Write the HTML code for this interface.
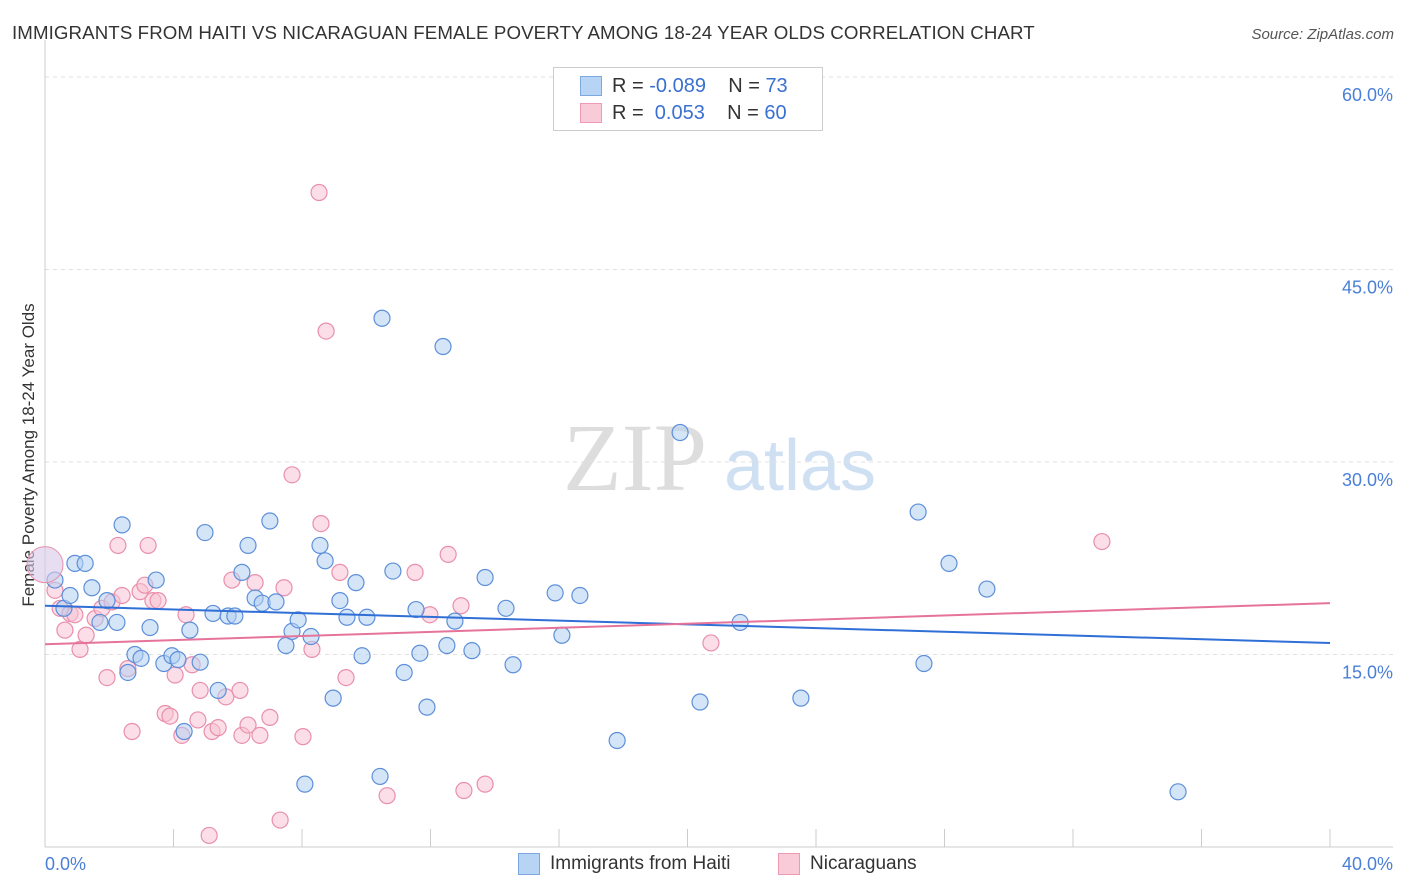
<!DOCTYPE html>
<html><head><meta charset="utf-8"><style>
body{margin:0;background:#fff;font-family:"Liberation Sans",sans-serif;}
#wrap{position:relative;width:1406px;height:892px;overflow:hidden}
</style></head><body><div id="wrap">
<svg id="svg" width="1406" height="892" xmlns="http://www.w3.org/2000/svg">
<text x="12" y="39" font-size="18.7" letter-spacing="0.1" fill="#333">IMMIGRANTS FROM HAITI VS NICARAGUAN FEMALE POVERTY AMONG 18-24 YEAR OLDS CORRELATION CHART</text>
<text x="1394" y="39" font-size="15" fill="#555" font-style="italic" text-anchor="end">Source: ZipAtlas.com</text>
<text x="635" y="490" font-size="96" fill="#ddd" font-family="Liberation Serif,serif" text-anchor="middle">ZIP</text>
<text x="800" y="490" font-size="72" fill="#cfe0f3" text-anchor="middle">atlas</text>
<text transform="translate(34,455) rotate(-90)" font-size="17" fill="#333" text-anchor="middle">Female Poverty Among 18-24 Year Olds</text>
<g id="grid"></g><g id="marks"></g>
</svg>
<div style="position:absolute;left:553px;top:67px;width:268px;height:62px;border:1px solid #ccc;background:#fff;font-size:20px">
<div style="position:absolute;left:26px;top:8px;width:20px;height:18px;background:#b8d4f5;border:1px solid #7ea8e0"></div>
<div style="position:absolute;left:58px;top:7px;color:#333">R = <span style="color:#3a70d0">-0.089</span>&nbsp;&nbsp;&nbsp; N = <span style="color:#3a70d0">73</span></div>
<div style="position:absolute;left:26px;top:35px;width:20px;height:18px;background:#f9cbd9;border:1px solid #ee9ab5"></div>
<div style="position:absolute;left:58px;top:34px;color:#333">R = &nbsp;<span style="color:#3a70d0">0.053</span>&nbsp;&nbsp;&nbsp; N = <span style="color:#3a70d0">60</span></div>
</div>
<div style="position:absolute;left:518px;top:853px;width:20px;height:20px;background:#b8d4f5;border:1px solid #7ea8e0"></div>
<div style="position:absolute;left:550px;top:853px;font-size:19px;color:#333">Immigrants from Haiti</div>
<div style="position:absolute;left:778px;top:853px;width:20px;height:20px;background:#f9cbd9;border:1px solid #ee9ab5"></div>
<div style="position:absolute;left:810px;top:853px;font-size:19px;color:#333">Nicaraguans</div>
</div>
<script>
const yTicks=[15,30,45,60];
const yTickLabels=["15.0%","30.0%","45.0%","60.0%"];
const xTickLabels=["0.0%","40.0%"];
const blueX=[0.31,0.59,0.78,0.93,1.25,1.46,1.71,1.93,2.24,2.40,2.58,2.80,2.99,3.27,3.46,3.70,3.95,4.14,4.33,4.51,4.83,4.98,5.23,5.39,5.70,5.91,6.13,6.32,6.54,6.76,7.00,7.19,7.50,7.69,7.88,8.09,8.28,8.56,8.72,8.97,9.18,9.40,9.68,9.87,10.02,10.43,10.49,10.83,11.18,11.55,11.67,11.89,12.39,12.51,12.76,13.29,13.70,14.35,14.57,15.88,16.09,16.65,17.81,19.77,20.39,21.64,23.53,27.18,27.36,28.14,29.32,35.27];
const blueY=[20.8,18.6,19.6,22.1,22.1,20.2,17.5,19.2,17.5,25.1,13.6,15.0,14.7,17.1,20.8,14.3,14.9,14.6,9.0,16.9,14.4,24.5,18.2,12.2,18.0,18.0,21.4,23.5,19.4,19.0,25.4,19.1,15.7,16.8,17.7,4.9,16.4,23.5,22.3,11.6,19.2,17.9,20.6,14.9,17.9,5.5,41.2,21.5,13.6,18.5,15.1,10.9,39.0,15.7,17.6,15.3,21.0,18.6,14.2,19.8,16.5,19.6,8.3,32.3,11.3,17.5,11.6,26.1,14.3,22.1,20.1,4.3];
const pinkX=[0.31,0.47,0.62,0.78,0.93,1.09,1.28,1.56,1.77,1.93,2.09,2.27,2.40,2.58,2.71,2.96,3.11,3.21,3.36,3.52,3.74,3.89,4.05,4.26,4.39,4.58,4.76,4.83,5.11,5.20,5.39,5.63,5.82,6.07,6.13,6.32,6.54,6.69,7.00,7.32,7.44,7.69,8.03,8.31,8.53,8.59,8.75,9.18,9.37,10.65,11.52,11.98,12.55,12.95,13.04,13.70,20.73,32.90];
const pinkY=[20.0,18.6,16.9,18.2,18.1,15.4,16.5,17.8,18.6,13.2,19.1,23.5,19.6,13.9,9.0,19.9,20.4,23.5,19.2,19.2,10.4,10.2,13.4,8.7,18.1,14.2,9.9,12.2,0.9,9.0,9.3,11.7,20.8,12.2,8.7,9.5,20.6,8.7,10.1,2.1,20.2,29.0,8.6,15.4,51.0,25.2,40.2,21.4,13.2,4.0,21.4,18.1,22.8,18.8,4.4,4.9,15.9,23.8];
const blueTrend=[18.8,15.9];
const pinkTrend=[15.8,19.0];
const bigPoint=[0,22.0];
const NS="http://www.w3.org/2000/svg";
const xs=v=>45+v/40*1285, ys=v=>847-v/15*192.5;
function mk(t,a,p){const e=document.createElementNS(NS,t);for(const k in a)e.setAttribute(k,a[k]);p.appendChild(e);return e;}
const g=document.getElementById('grid'),m=document.getElementById('marks');
yTicks.forEach((t,i)=>{
 const l=mk('line',{x1:45,x2:1393,y1:ys(t),y2:ys(t),stroke:'#e0e0e0','stroke-dasharray':'4,4'},g);
 
 
 const tx=mk('text',{x:1393,y:ys(t)+24,'font-size':18,fill:'#4a7fd8','text-anchor':'end'},g);tx.textContent=yTickLabels[i];
 
 
});
let ax=mk('line',{x1:45,x2:45,y1:40,y2:847,stroke:'#ccc'},g);


ax=mk('line',{x1:45,x2:1393,y1:847,y2:847,stroke:'#ccc'},g);


for(let v=0;v<=40;v+=4){const t=mk('line',{x1:xs(v),x2:xs(v),y1:829,y2:847,stroke:'#ccc'},g);
 
 }
[[0,'start',45],[40,'end',1393]].forEach((d,i)=>{const t=mk('text',{x:d[2],y:870,'font-size':18,fill:'#4a7fd8','text-anchor':d[1]},g);t.textContent=xTickLabels[i];
 
 });
function pts(X,Y,fill,stroke,name){X.forEach((x,i)=>{const c=mk('circle',{cx:xs(x),cy:ys(Y[i]),r:8,fill:fill,stroke:stroke,'stroke-width':1.2,'fill-opacity':0.55},m);
 
 });}
pts(pinkX,pinkY,'#f7c3d3','#e98fac','nicaraguan-point');
pts(blueX,blueY,'#b3d0f3','#5d8fd9','haiti-point');
let b=mk('circle',{cx:xs(bigPoint[0]),cy:ys(bigPoint[1]),r:18,fill:'#d8c8e8',stroke:'#e98fac','fill-opacity':0.6},m);


let tl=mk('line',{x1:xs(0),x2:xs(40),y1:ys(blueTrend[0]),y2:ys(blueTrend[1]),stroke:'#2f6fd6','stroke-width':2},m);


tl=mk('line',{x1:xs(0),x2:xs(40),y1:ys(pinkTrend[0]),y2:ys(pinkTrend[1]),stroke:'#e5739a','stroke-width':2},m);


</script></body></html>
